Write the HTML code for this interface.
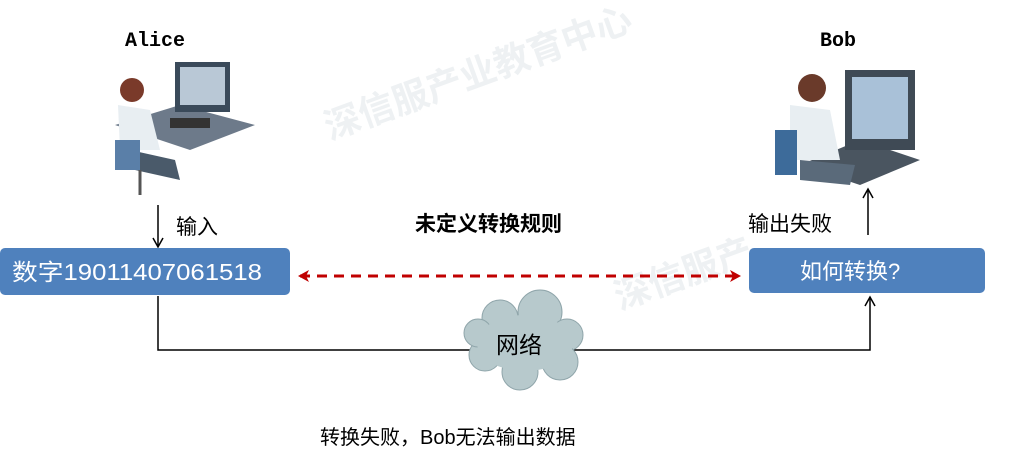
<!DOCTYPE html>
<html><head><meta charset="utf-8"><style>
body{margin:0;width:1020px;height:456px;background:#fff;overflow:hidden;font-family:"Liberation Sans","Noto Sans CJK SC",sans-serif}
</style></head><body>
<svg width="1020" height="456" xmlns="http://www.w3.org/2000/svg" font-family="Liberation Sans, Noto Sans CJK SC, sans-serif">
<defs>
<marker id="ra" markerUnits="userSpaceOnUse" markerWidth="12" markerHeight="14" refX="10" refY="7" orient="auto"><path d="M0,1 L11,7 L0,13 L3,7 Z" fill="#c00000"/></marker>
<marker id="rb" markerUnits="userSpaceOnUse" markerWidth="12" markerHeight="14" refX="2" refY="7" orient="auto"><path d="M11,1 L0,7 L11,13 L8,7 Z" fill="#c00000"/></marker>
</defs>
<g fill="#eef1f3" font-size="36" font-weight="bold">
<text x="330" y="140" transform="rotate(-20 330 140)">深信服产业教育中心</text>
<text x="620" y="310" transform="rotate(-20 620 310)">深信服产</text>
</g>
<text x="125" y="46" font-size="20" font-weight="bold" font-family="Liberation Mono, monospace">Alice</text>
<g>
<polygon points="115,125 180,105 255,125 190,150" fill="#6d7a8a"/>
<rect x="175" y="62" width="55" height="50" fill="#3a4a5a"/><rect x="180" y="67" width="45" height="38" fill="#b9c8d6"/>
<rect x="170" y="118" width="40" height="10" fill="#333"/>
<circle cx="132" cy="90" r="12" fill="#7a3a2a"/>
<path d="M118,105 L150,110 L160,150 L120,150 Z" fill="#e8eef2"/>
<path d="M130,150 L175,160 L180,180 L135,170 Z" fill="#4a5a6a"/>
<rect x="115" y="140" width="25" height="30" fill="#5a7fa8"/>
<line x1="140" y1="170" x2="140" y2="195" stroke="#555" stroke-width="3"/>
</g>
<text x="820" y="46" font-size="20" font-weight="bold" font-family="Liberation Mono, monospace">Bob</text>
<g>
<polygon points="800,165 860,140 920,160 860,185" fill="#4a5560"/>
<rect x="845" y="70" width="70" height="80" fill="#3f4a55"/><rect x="852" y="77" width="56" height="62" fill="#a9c1d8"/>
<circle cx="812" cy="88" r="14" fill="#6a3a2a"/>
<path d="M790,105 L830,110 L840,160 L790,160 Z" fill="#e8eef2"/>
<rect x="775" y="130" width="22" height="45" fill="#3d6b9a"/>
<path d="M800,160 L855,165 L850,185 L800,180 Z" fill="#5a6a7a"/>
</g>
<line x1="158" y1="205" x2="158" y2="246" stroke="#000" stroke-width="1.5"/>
<path d="M153,238 L158,247 L163,238" fill="none" stroke="#000" stroke-width="1.5"/>
<text x="176" y="234" font-size="21">输入</text>
<line x1="868" y1="235" x2="868" y2="190" stroke="#000" stroke-width="1.5"/>
<path d="M863,198 L868,189 L873,198" fill="none" stroke="#000" stroke-width="1.5"/>
<text x="748" y="231" font-size="21">输出失败</text>
<text x="415" y="231" font-size="21" font-weight="bold">未定义转换规则</text>
<rect x="0" y="248" width="290" height="47" rx="5" fill="#4f81bd"/>
<text x="12" y="280" font-size="23" fill="#fff" textLength="250" lengthAdjust="spacingAndGlyphs">数字19011407061518</text>
<rect x="749" y="248" width="236" height="45" rx="5" fill="#4f81bd"/>
<text x="800" y="279" font-size="22" fill="#fff">如何转换?</text>
<line x1="300" y1="276" x2="740" y2="276" stroke="#c00000" stroke-width="3" stroke-dasharray="10,7" marker-start="url(#rb)" marker-end="url(#ra)"/>
<polyline points="158,296 158,350 870,350 870,297" fill="none" stroke="#000" stroke-width="1.5"/>
<path d="M865,306 L870,297 L875,306" fill="none" stroke="#000" stroke-width="1.5"/>
<g fill="#b7c9cc" stroke="#8fa5aa" stroke-width="1">
<circle cx="500" cy="318" r="18"/><circle cx="540" cy="312" r="22"/><circle cx="567" cy="335" r="16"/>
<circle cx="560" cy="362" r="18"/><circle cx="520" cy="372" r="18"/><circle cx="485" cy="355" r="16"/><circle cx="478" cy="333" r="14"/>
</g>
<ellipse cx="525" cy="343" rx="48" ry="28" fill="#b7c9cc"/>
<text x="496" y="353" font-size="23">网络</text>
<text x="320" y="444" font-size="20">转换失败，Bob无法输出数据</text>
</svg>
</body></html>
